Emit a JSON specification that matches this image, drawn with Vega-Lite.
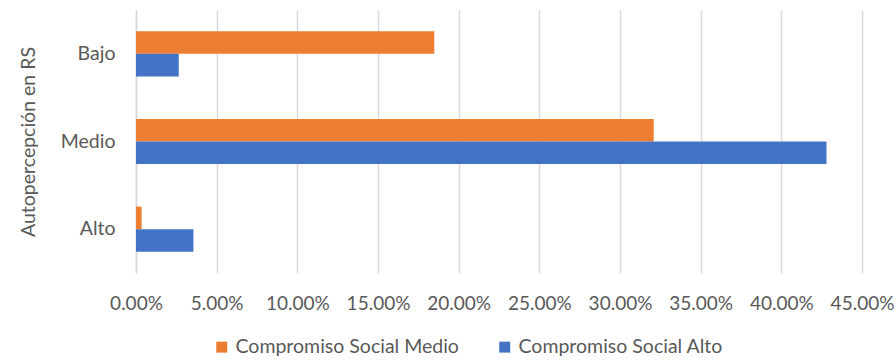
{
  "$schema": "https://vega.github.io/schema/vega-lite/v6.json",
  "width": 726,
  "height": 263,
  "autosize": {"type": "none"},
  "padding": {"left": 136, "top": 10, "right": 34, "bottom": 88},
  "background": "white",
  "config": {
    "font": "Lato",
    "view": {"stroke": null},
    "axis": {"labelColor": "#595959", "titleColor": "#595959", "labelFont": "Lato", "titleFont": "Lato"},
    "legend": {"labelColor": "#595959", "labelFont": "Lato"}
  },
  "data": {
    "values": [
      {"cat": "Bajo", "serie": "Compromiso Social Medio", "value": 0.1849},
      {"cat": "Bajo", "serie": "Compromiso Social Alto", "value": 0.0265},
      {"cat": "Medio", "serie": "Compromiso Social Medio", "value": 0.3209},
      {"cat": "Medio", "serie": "Compromiso Social Alto", "value": 0.428},
      {"cat": "Alto", "serie": "Compromiso Social Medio", "value": 0.0035},
      {"cat": "Alto", "serie": "Compromiso Social Alto", "value": 0.0356}
    ]
  },
  "mark": {"type": "bar"},
  "encoding": {
    "y": {
      "field": "cat",
      "type": "nominal",
      "sort": ["Bajo", "Medio", "Alto"],
      "scale": {"paddingInner": 0.485, "paddingOuter": 0.2425},
      "axis": {
        "title": "Autopercepción en RS",
        "titleFontSize": 19.5,
        "titleFontWeight": "normal",
        "titlePadding": 22,
        "labelFontSize": 19.5,
        "labelPadding": 21,
        "ticks": false,
        "domain": true,
        "domainColor": "#d9d9d9",
        "domainWidth": 1.5
      }
    },
    "yOffset": {
      "field": "serie",
      "type": "nominal",
      "sort": ["Compromiso Social Medio", "Compromiso Social Alto"],
      "scale": {"paddingInner": 0, "paddingOuter": 0}
    },
    "x": {
      "field": "value",
      "type": "quantitative",
      "scale": {"domain": [0, 0.45], "nice": false},
      "axis": {
        "title": null,
        "format": ".2%",
        "values": [0, 0.05, 0.1, 0.15, 0.2, 0.25, 0.3, 0.35, 0.4, 0.45],
        "labelFontSize": 19,
        "labelPadding": 21,
        "labelFlush": false,
        "labelOverlap": false,
        "ticks": false,
        "domain": false,
        "grid": true,
        "gridColor": "#d9d9d9",
        "gridWidth": 1.5
      }
    },
    "color": {
      "field": "serie",
      "type": "nominal",
      "scale": {
        "domain": ["Compromiso Social Medio", "Compromiso Social Alto"],
        "range": ["#ED7D31", "#4472C4"]
      },
      "legend": {
        "title": null,
        "orient": "none",
        "legendX": 76,
        "legendY": 327,
        "direction": "horizontal",
        "labelFontSize": 19.5,
        "symbolType": "square",
        "symbolSize": 120,
        "symbolStrokeWidth": 0,
        "columnPadding": 36,
        "labelLimit": 400
      }
    }
  }
}
